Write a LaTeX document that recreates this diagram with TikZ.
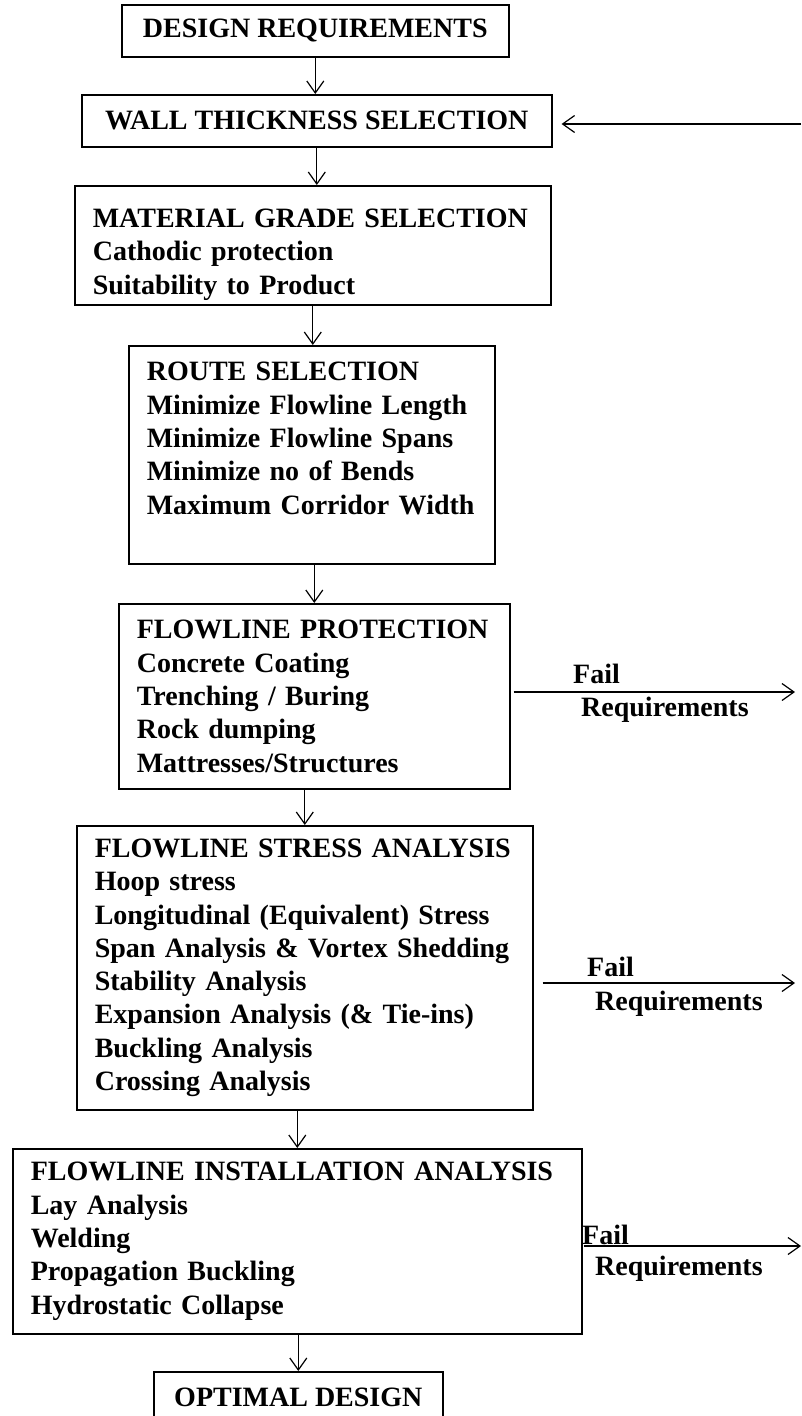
\documentclass[tikz,border=0pt]{standalone}
\usepackage{fontspec}
\setmainfont{Liberation Serif}
\usetikzlibrary{arrows.meta}

\begin{document}
\begin{tikzpicture}[x=1pt, y=-1pt,
    every node/.style={font=\fontsize{28}{33.3}\selectfont\bfseries},
    box/.style={draw, line width=1.6pt, anchor=north west, inner ysep=4pt},
    titlebox/.style={box, align=center, minimum height=52pt},
    listbox/.style={box, align=left, inner xsep=18pt},
    flow/.style={line width=1.2pt, -{Straight Barb[length=12pt,width=17pt]}},
    faillabel/.style={anchor=base west, inner sep=0pt}]
    \useasboundingbox (0,0) rectangle (801,1416);

    %Boxes
    \node[titlebox, minimum width=387pt] (design) at (121,4) {DESIGN REQUIREMENTS};
    \node[titlebox, minimum width=470pt] (wall) at (81,94) {WALL THICKNESS SELECTION};
    \node[listbox, text width=440pt, minimum height=119pt] (material) at (74,185)
        {\rule{0pt}{37pt}MATERIAL GRADE SELECTION\\ Cathodic protection\\ Suitability to Product};
    \node[listbox, text width=330pt, minimum height=218pt] (route) at (128,345)
        {ROUTE SELECTION\\ Minimize Flowline Length\\ Minimize Flowline Spans\\
         Minimize no of Bends\\ Maximum Corridor Width\\ ~};
    \node[listbox, text width=355pt, minimum height=185pt] (protect) at (118,603)
        {FLOWLINE PROTECTION\\ Concrete Coating\\ Trenching / Buring\\
         Rock dumping\\ Mattresses/Structures};
    \node[listbox, text width=420pt, minimum height=284pt] (stress) at (76,825)
        {FLOWLINE STRESS ANALYSIS\\ Hoop stress\\ Longitudinal (Equivalent) Stress\\
         Span Analysis \& Vortex Shedding\\ Stability Analysis\\
         Expansion Analysis (\& Tie-ins)\\ Buckling Analysis\\ Crossing Analysis};
    \node[listbox, text width=533pt, minimum height=185pt] (install) at (12,1148)
        {FLOWLINE INSTALLATION ANALYSIS\\ Lay Analysis\\ Welding\\
         Propagation Buckling\\ Hydrostatic Collapse};
    \node[titlebox, minimum width=289pt] (optimal) at (153,1371) {OPTIMAL DESIGN};

    %Main flow
    \draw[flow] (design) -- (design |- wall.north);
    \draw[flow] (wall) -- (wall |- material.north);
    \draw[flow] (material) -- (material |- route.north);
    \draw[flow] (route.south -| protect) -- (protect);
    \draw[flow] (protect.south -| stress) -- (stress);
    \draw[flow] (stress.south -| install) -- (install);
    \draw[flow] (install.south -| optimal) -- (optimal);

    %Loop back to wall thickness
    \coordinate (back) at (801,124);
    \draw[flow, shorten >=9pt] (back) -- (back -| wall.east);

    %Fail requirements
    \coordinate (out1) at (795,692);
    \draw[flow, shorten <=3pt] (out1 -| protect.east) -- (out1);
    \node[faillabel] (fail1) at (573,683) {Fail};
    \node[faillabel] (req1) at (581,716) {Requirements};

    \coordinate (out2) at (795,983);
    \draw[flow, shorten <=9pt] (out2 -| stress.east) -- (out2);
    \node[faillabel] (fail2) at (587,976) {Fail};
    \node[faillabel] (req2) at (595,1010) {Requirements};

    \coordinate (out3) at (801,1246);
    \draw[flow, shorten <=1pt] (out3 -| install.east) -- (out3);
    \node[faillabel] (fail3) at (582,1244) {Fail};
    \node[faillabel] (req3) at (595,1275) {Requirements};
\end{tikzpicture}
\end{document}
